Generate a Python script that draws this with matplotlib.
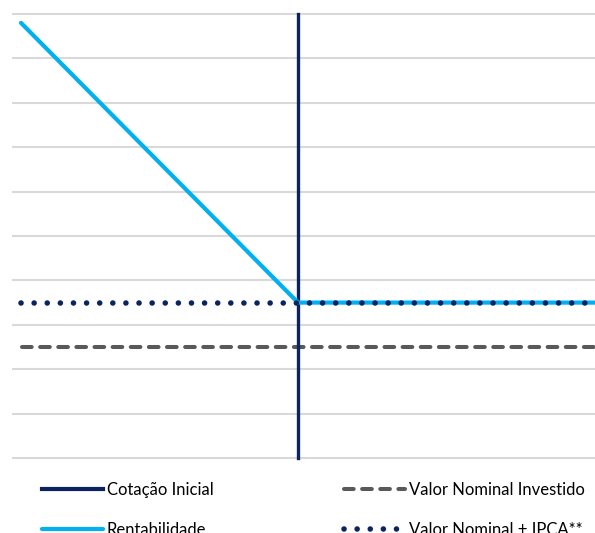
import matplotlib.pyplot as plt
import numpy as np

plt.rcParams['font.family'] = ['Lato', 'DejaVu Sans']

# Valores (eixo y de 0 a 10, linhas de grade a cada 1)
x_price = [-1.0, 0.0, 1.08]
rentabilidade = [9.8, 3.5, 3.5]
ipca_level = 3.5
nominal_level = 2.5
cotacao_x = 0.0
cotacao_y = [0.0, 10.0]
grid_ticks = np.arange(0, 11, 1)

labels = ['Cotação Inicial', 'Rentabilidade',
          'Valor Nominal Investido', 'Valor Nominal + IPCA**']

navy = '#0B2360'
blue = '#00B0F0'
gray = '#595959'
grid_c = '#D9D9D9'

W, H = 595, 533
fig = plt.figure(figsize=(W / 100, H / 100), dpi=100)

# área do gráfico em pixels: x 12..595, y 14..458 (y=10 -> 14, y=0 -> 458)
pad = 0.1
px_per = 444 / 10
top_px = 14 - pad * px_per
bot_px = 458 + pad * px_per
ax = fig.add_axes([12 / W, 1 - bot_px / H, (W - 12) / W, (bot_px - top_px) / H])
ax.set_ylim(-pad, 10 + pad)
x_left = -1 - 9 / 277
x_right = x_left + (W - 12) / 277
ax.set_xlim(x_left, x_right)

for t in grid_ticks:
    ax.axhline(t, color=grid_c, lw=1.5, zorder=1)

l_nom, = ax.plot([-0.997, x_right], [nominal_level] * 2, color=gray, lw=2.9,
                 linestyle=(0, (2.4, 2.1)), dash_capstyle='round', zorder=2)
l_cot, = ax.plot([cotacao_x, cotacao_x], cotacao_y, color=navy, lw=2.4, zorder=3)
l_rent, = ax.plot(x_price, rentabilidade, color=blue, lw=3.0,
                  solid_capstyle='round', zorder=4)
l_ipca, = ax.plot([-1.0, x_right], [ipca_level] * 2, color=navy, lw=4.0,
                  linestyle=(0, (0.01, 2.35)), dash_capstyle='round', zorder=5)

ax.axis('off')

leg = fig.legend([l_cot, l_rent, l_nom, l_ipca], labels, ncol=2,
                 loc='upper left', bbox_to_anchor=(42 / W, 1 - 482 / H),
                 frameon=False, fontsize=12, handlelength=3.65, handletextpad=0.25,
                 columnspacing=7.8, labelspacing=1.42, borderaxespad=0,
                 borderpad=0)
for h in leg.get_lines()[:2]:
    h.set_linewidth(3.0)

fig.savefig('out.png', dpi=100, facecolor='white')
